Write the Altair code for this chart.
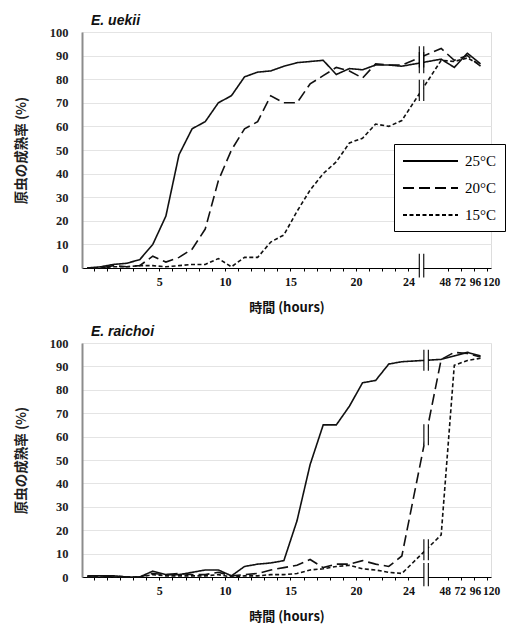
import altair as alt
import pandas as pd

# ---------------- data ----------------
hours = list(range(25)) + [48, 72, 96, 120]
temps = ["25°C", "20°C", "15°C"]

uekii_25 = [0, 0.5, 1.5, 2, 3.5, 10, 22, 48, 59, 62, 70, 73, 81, 83, 83.5, 85.5, 87, 87.5, 88,
            82, 84.5, 84, 86, 86, 85.5, 88.5, 85, 91, 86.5]
uekii_20 = [0, 0, 1, 0.5, 1, 5, 2.5, 4.5, 8, 16.5, 37, 50, 59, 62, 73, 70, 70, 78, 81.5,
            85, 83.5, 80.5, 86.5, 86, 86, 93, 88, 90, 85.5]
uekii_15 = [0, 0, 0.5, 0.5, 1, 1, 0.5, 1, 1.5, 1.5, 4, 0.5, 4.5, 4.5, 11, 14, 24, 33, 40,
            45, 53, 55, 61, 60, 62.5, 88, 87.5, 89, 86]

raichoi_25 = [0.5, 0.5, 0.5, 0, 0, 2.5, 1, 1, 2, 3, 3, 0.5, 4.5, 5.5, 6, 7, 24, 48, 65,
              65, 73, 83, 84, 91, 92, 93, 94.5, 96, 94.5]
raichoi_20 = [0, 0, 0.5, 0, 0, 1.5, 1, 1.5, 1, 1, 2, 0.5, 1, 1.5, 3, 4, 5, 7.5, 4,
              5.5, 5.5, 7, 5.5, 4.5, 9, 93, 96, 95.5, 94]
raichoi_15 = [0, 0, 0, 0, 0, 1, 0.5, 0.5, 0.5, 0.5, 1, 0, 0.5, 0.5, 1, 1, 1.5, 3, 3.5,
              4.5, 5, 3.5, 3, 2, 1.5, 18, 90.5, 92.5, 93.5]

label_hours = [5, 10, 15, 20, 24, 48, 72, 96, 120]
y_ticks = list(range(0, 101, 10))

species = ["E. uekii", "E. raichoi"]
break_pos = [25.5, 25.85]


# ---------------- helpers ----------------
def to_pos(h):
    # hours 0-24 on a regular category axis, then a broken axis for 48..120
    return h if h <= 24 else 25 + h / 24


def build(series):
    rows = []
    for t, vals in zip(temps, series):
        for h, v in zip(hours, vals):
            rows.append({"temp": t, "hour": h, "pos": to_pos(h), "value": v})
    return pd.DataFrame(rows)


def build_breaks(series, bp):
    i24, i48 = hours.index(24), hours.index(48)
    p0, p1 = to_pos(24), to_pos(48)
    levels = [(-4, 6)]
    for vals in series:
        v = vals[i24] + (vals[i48] - vals[i24]) * (bp - p0) / (p1 - p0)
        levels.append((v - 4.5, v + 4.5))
    mask, bars = [], []
    for lo, hi in levels:
        mask.append({"pos": bp, "value": lo, "value2": hi})
        for d in (-0.17, 0.17):
            bars.append({"pos": bp + d, "value": lo, "value2": hi})
    return pd.DataFrame(mask), pd.DataFrame(bars)


tick_vals = [k + 0.5 for k in range(0, 25)] + [to_pos(h) + 0.5 for h in [48, 72, 96, 120]]
label_expr = " : ".join(
    f"datum.value == {to_pos(h) + 0.5} ? '{h}'" for h in label_hours
) + " : ''"
late = f"datum.value > {to_pos(24) + 1}"
label_size = {"condition": {"test": late, "value": 11.5}, "value": 12}
label_shift = {
    "condition": [
        {"test": f"datum.value == {to_pos(48) + 0.5}", "value": -3},
        {"test": f"datum.value == {to_pos(72) + 0.5}", "value": -1},
        {"test": f"datum.value == {to_pos(96) + 0.5}", "value": 1},
        {"test": f"datum.value == {to_pos(120) + 0.5}", "value": 4},
    ],
    "value": 0,
}

x_scale = alt.Scale(domain=[-0.4, 30.8], nice=False, zero=False)
y_scale = alt.Scale(domain=[0, 100], nice=False)

x_axis = alt.Axis(
    values=tick_vals, labelExpr=label_expr, grid=False,
    domainColor="#000", domainWidth=1, tickColor="#000", tickSize=3, tickWidth=1,
    labelFont="Liberation Serif", labelFontSize=label_size, labelOffset=label_shift,
    labelFontWeight="bold", labelColor="#111",
    labelPadding=5, labelOverlap=False, labelFlush=False,
    title="時間 (hours)", titleFont="Noto Sans CJK JP", titleFontSize=13,
    titleFontWeight="bold", titleColor="#111", titlePadding=14, zindex=0,
)
y_axis = alt.Axis(
    values=y_ticks, ticks=False, tickSize=0, grid=True, gridColor="#e4e4e4", gridWidth=1,
    domainColor="#8c8c8c", domainWidth=2,
    labelFont="Liberation Serif", labelFontSize=12.5, labelFontWeight="bold", labelColor="#222",
    labelPadding=14,
    title="原虫の成熟率 (%)", titleFont="Noto Sans CJK JP", titleFontSize=13.5,
    titleFontWeight="bold", titleColor="#222", titlePadding=21, zindex=0,
)

dash_scale = alt.Scale(domain=temps, range=[[1, 0], [11, 5], [4, 2.5]])


def panel(name, series, bp, height, show_legend):
    df = build(series)
    mask_df, bar_df = build_breaks(series, bp)
    x = alt.X("pos:Q", scale=x_scale, axis=x_axis)
    y = alt.Y("value:Q", scale=y_scale, axis=y_axis)
    if show_legend:
        legend = alt.Legend(
            title=None, orient="none", legendX=312, legendY=112,
            fillColor="white", strokeColor="#000", padding=8,
            symbolType="M-1,0H5.875", symbolSize=256, symbolStrokeWidth=2,
            symbolStrokeColor="#000", labelFont="Liberation Serif", labelFontSize=15,
            labelColor="#000", labelOffset=45, rowPadding=10,
        )
    else:
        legend = None
    lines = alt.Chart(df).mark_line(color="#111", strokeWidth=1.6).encode(
        x=x, y=y,
        strokeDash=alt.StrokeDash("temp:N", scale=dash_scale, legend=legend, sort=temps),
    )
    mask = alt.Chart(mask_df).mark_rule(color="white", strokeWidth=4).encode(
        x=x, y=y, y2="value2:Q")
    bars = alt.Chart(bar_df).mark_rule(color="#000", strokeWidth=1.1).encode(
        x=x, y=y, y2="value2:Q")
    return alt.layer(lines, mask, bars).properties(
        width=409, height=height,
        title=alt.TitleParams(
            name, anchor="start", frame="group", font="Liberation Sans", fontSize=14,
            fontStyle="italic", fontWeight="bold", color="#111", dx=9, offset=-2,
        ),
    )


top = panel(species[0], [uekii_25, uekii_20, uekii_15], break_pos[0], 236, True)
bottom = panel(species[1], [raichoi_25, raichoi_20, raichoi_15], break_pos[1], 234, False)

chart = alt.vconcat(top, bottom, spacing=9).resolve_scale(
    strokeDash="independent").resolve_legend(strokeDash="independent").configure_view(
    stroke=None).configure(background="white")

chart.save("out.html", embed_options={"renderer": "svg", "actions": False})
